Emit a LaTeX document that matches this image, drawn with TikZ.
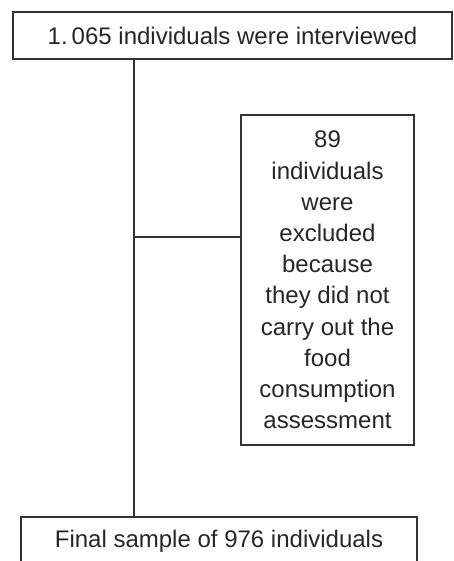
\documentclass[tikz,border=0pt]{standalone}
\usepackage{fontspec}
\setmainfont{Liberation Sans}
\usepackage{tikz}
\tikzset{
  font={\fontsize{12pt}{15.6pt}\selectfont}}

\begin{document}
\begin{tikzpicture}[x=0.5pt,y=-0.5pt]
\tikzstyle{every node}+=[inner sep=0pt]
\tikzstyle{flowbox}=[draw=black!80, line width=0.65pt, text=black!85, align=center]
\useasboundingbox (0,0) rectangle (454,561);
\clip (0,0) rectangle (454,561);
\node [flowbox, minimum width=219.5pt, minimum height=23.5pt] (interviewed) at (232.5,35.5) {1.\,065 individuals were interviewed};
\node [flowbox, minimum width=86.5pt, minimum height=165pt] (excluded) at (327.5,280) {89\\individuals\\were\\excluded\\because\\they did not\\carry out the\\food\\consumption\\assessment};
\node [flowbox, minimum width=198pt, minimum height=24pt] (sample) at (219,541) {Final sample of 976 individuals};
\coordinate (trunk) at (134,0);
\coordinate (branch) at (134,237);
\draw [black!80, line width=0.65pt] (interviewed.south -| trunk) -- (sample.north -| trunk);
\draw [black!80, line width=0.65pt] (branch) -- (branch -| excluded.west);
\end{tikzpicture}
\end{document}
